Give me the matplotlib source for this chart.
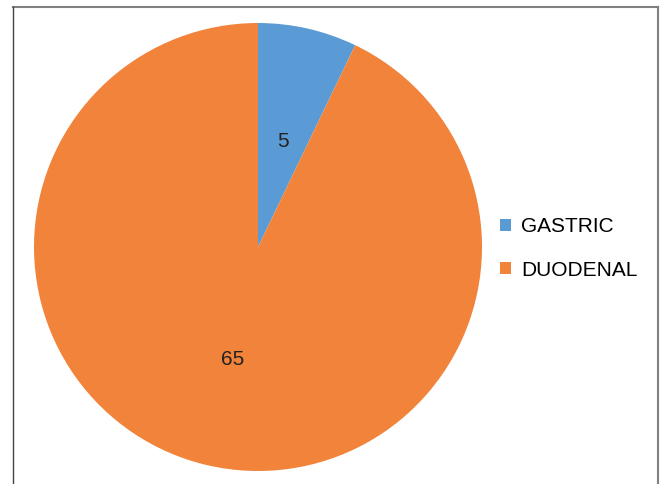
import matplotlib.pyplot as plt
from matplotlib.lines import Line2D
from matplotlib.patches import Patch

plt.rcParams['font.family'] = ['Liberation Sans', 'DejaVu Sans']

labels = ['GASTRIC', 'DUODENAL']
counts = [5, 65]
colors = ['#5B9BD5', '#F2833A']

W, H = 661, 484
fig = plt.figure(figsize=(W / 100, H / 100), dpi=100)

# pie area: centre (258, 247) px, radius 224 px
cx, cy, r = 258, 247, 224
ax = fig.add_axes([(cx - r) / W, (H - cy - r) / H, 2 * r / W, 2 * r / H])
wedges, texts = ax.pie(counts, colors=colors, startangle=90, counterclock=False,
                       radius=1, labels=[str(c) for c in counts], labeldistance=0.5,
                       textprops={'fontsize': 15, 'color': '#222222'})
for t in texts:
    t.set_horizontalalignment('center')
    t.set_verticalalignment('center')
    x, y = t.get_position()
    t.set_position((x, y - 0.015))  # nudge down a little
ax.set_xlim(-1, 1)
ax.set_ylim(-1, 1)
ax.set_aspect('equal')
ax.axis('off')

handles = [Patch(facecolor=c, edgecolor='none') for c in colors]
fig.legend(handles, labels, loc='center left', bbox_to_anchor=(500 / W, 1 - 248.5 / H),
           frameon=False, fontsize=15, handlelength=0.55, handleheight=0.55,
           handletextpad=0.45, labelspacing=1.16, borderpad=0, borderaxespad=0)

# border lines around the chart
gray = '#808080'
fig.add_artist(Line2D([13 / W, 658 / W], [1 - 6.5 / H, 1 - 6.5 / H], color=gray, lw=1.5))
fig.add_artist(Line2D([13 / W, 13 / W], [0, 1 - 6.5 / H], color='#444444', lw=1))
fig.add_artist(Line2D([658 / W, 658 / W], [0, 1 - 6.5 / H], color=gray, lw=1.5))

fig.savefig('out.png', dpi=100)
